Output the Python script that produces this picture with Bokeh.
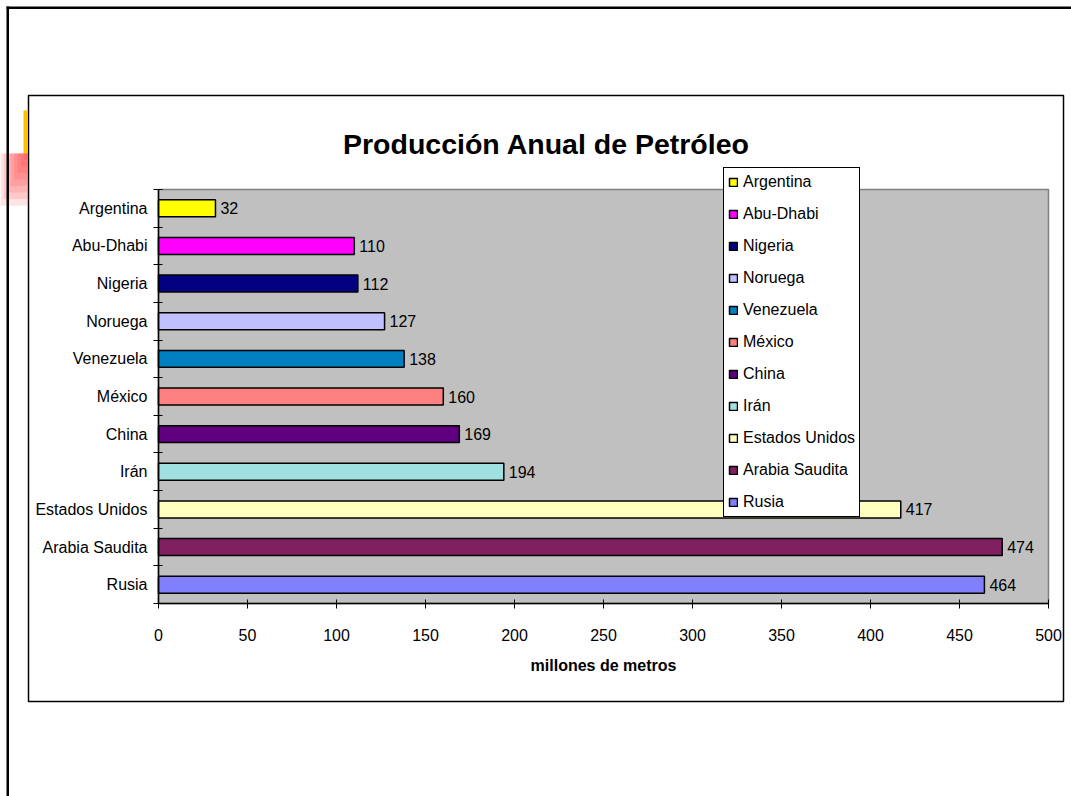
from bokeh.plotting import figure
from bokeh.models import (ColumnDataSource, Range1d, FixedTicker, BoxAnnotation,
                          Legend, LegendItem, Label)
from bokeh.core.properties import value
from bokeh.embed import file_html
from bokeh.resources import INLINE

# ---- data (top to bottom as shown) ----
countries = ["Argentina", "Abu-Dhabi", "Nigeria", "Noruega", "Venezuela", "México",
             "China", "Irán", "Estados Unidos", "Arabia Saudita", "Rusia"]
production = [32, 110, 112, 127, 138, 160, 169, 194, 417, 474, 464]
colors = ["#FFFF00", "#FF00FF", "#000080", "#C0C0FF", "#0080C0", "#FF8080",
          "#600080", "#A0E0E0", "#FFFFC0", "#802060", "#8080FF"]
x_ticks = [0, 50, 100, 150, 200, 250, 300, 350, 400, 450, 500]
title_text = "Producción Anual de Petróleo"
x_title = "millones de metros"

FONT = "Liberation Sans"
n = len(countries)
ypos = [n - i - 0.5 for i in range(n)]
XMAX = x_ticks[-1]

# ---- layout (pixels on the canvas) ----
W, H = 1071, 796
PL, PR, PT, PB = 158, 1048, 189, 603          # plot area edges
sx = (PR - PL) / XMAX
sy = (PB - PT) / n

def fx(px):
    return (px - PL) / sx

def fy(py):
    return (PB - py) / sy

src = ColumnDataSource(dict(country=countries, value=production, color=colors, y=ypos,
                            label=[str(v) for v in production]))

p = figure(width=W, height=H, output_backend="svg", toolbar_location=None,
           x_range=Range1d(fx(0), fx(W)), y_range=Range1d(fy(H), fy(0)),
           min_border=0)
p.background_fill_color = "white"
p.border_fill_color = "white"
p.outline_line_color = None
p.xgrid.visible = False
p.ygrid.visible = False

# plot-area background
p.add_layout(BoxAnnotation(left=0, right=XMAX, bottom=0, top=n,
                           fill_color="#C0C0C0", fill_alpha=1,
                           line_color="#808080", line_alpha=1, line_width=1.5,
                           level="underlay"))

# bars
r = p.hbar(y="y", left=0, right="value", height=0.45, source=src,
           fill_color="color", line_color="black", line_width=1.5)

# value labels
p.text(x="value", y="y", text="label", source=src, x_offset=5,
       text_baseline="middle", text_align="left",
       text_font=value(FONT), text_font_size="16px", text_color="black")

# x axis (fixed at y = 0)
xa = p.xaxis[0]
xa.fixed_location = 0
xa.bounds = (0, XMAX)
xa.ticker = FixedTicker(ticks=x_ticks, minor_ticks=[])
xa.major_tick_in = 4
xa.major_tick_out = 5
xa.major_tick_line_color = "black"
xa.axis_line_color = "black"
xa.axis_line_width = 1.5
xa.major_label_text_font = FONT
xa.major_label_text_font_size = "16px"
xa.major_label_text_color = "black"
xa.major_label_standoff = 20
xa.axis_label = x_title
xa.axis_label_text_font = FONT
xa.axis_label_text_font_size = "16px"
xa.axis_label_text_font_style = "bold"
xa.axis_label_text_color = "black"
xa.axis_label_standoff = 13

# y axis (fixed at x = 0): labels at centers, tick marks at boundaries
ya = p.yaxis[0]
ya.fixed_location = 0
ya.bounds = (0, n)
ya.ticker = FixedTicker(ticks=ypos, minor_ticks=list(range(n + 1)))
ya.major_label_overrides = {y: c for y, c in zip(ypos, countries)}
ya.major_tick_line_color = None
ya.major_tick_in = 0
ya.major_tick_out = 0
ya.minor_tick_line_color = "black"
ya.minor_tick_in = 4
ya.minor_tick_out = 5
ya.axis_line_color = "black"
ya.axis_line_width = 1.5
ya.major_label_text_font = FONT
ya.major_label_text_font_size = "16px"
ya.major_label_text_color = "black"
ya.major_label_standoff = 6

# title
p.add_layout(Label(x=fx(546), y=fy(143), text=title_text, text_align="center",
                   text_baseline="alphabetic", text_font=FONT, text_font_size="28.5px",
                   text_font_style="bold", text_color="black"))

# legend
items = [LegendItem(label=c, renderers=[r], index=i) for i, c in enumerate(countries)]
leg = Legend(items=items, location=(723, H - 517))
leg.glyph_width = 10
leg.glyph_height = 10
leg.label_height = 20
leg.spacing = 12
leg.padding = 4
leg.margin = 0
leg.label_standoff = 5
leg.label_text_font = FONT
leg.label_text_font_size = "16px"
leg.label_text_color = "black"
leg.label_text_baseline = "middle"
leg.border_line_color = "black"
leg.border_line_alpha = 1
leg.border_line_width = 1.5
leg.background_fill_color = "white"
leg.background_fill_alpha = 1
p.add_layout(leg, "center")

# slide / chart frames
def pbox(l, t, rr, b, **kw):
    p.add_layout(BoxAnnotation(left=fx(l), right=fx(rr), top=fy(t), bottom=fy(b), **kw))

pbox(28, 95, 1063, 701, fill_alpha=0, line_color="black", line_alpha=1,
     line_width=1.5, level="underlay")
pbox(6, 6, 8.5, H, fill_color="black", fill_alpha=1, line_alpha=0)
pbox(6, 6, W, 8.5, fill_color="black", fill_alpha=1, line_alpha=0)
pbox(23, 110, 27, 153, fill_color="#FFC000", fill_alpha=1, line_alpha=0, level="underlay")
for k in range(8):
    pbox(27 - 3.4 * (k + 1), 153, 27, 153 + 6.5 * (k + 1), fill_color="#FF3030",
         fill_alpha=0.14, line_alpha=0, level="underlay")

open("out.html", "w").write(file_html(p, INLINE))
